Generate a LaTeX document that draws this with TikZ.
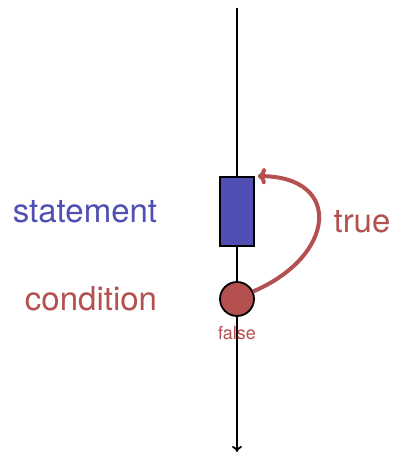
\documentclass[tikz,border=0pt]{standalone}
\usepackage{fontspec}
\setmainfont{TeX Gyre Heros}
\usetikzlibrary{arrows.meta,positioning,calc}

\definecolor{stmtblue}{RGB}{80,80,180}
\definecolor{condred}{RGB}{180,80,80}

\begin{document}
\begin{tikzpicture}[
  x=0.5pt, y=0.5pt,
  font=\rmfamily,
  big/.style  = {font=\fontsize{16.5}{18}\selectfont, anchor=base},
  small/.style = {font=\fontsize{9}{10}\selectfont, anchor=base},
  flow/.style = {line width=0.9pt, -{To[length=3pt,width=5pt]}},
  stmt/.style = {draw, line width=0.9pt, fill=stmtblue,
                 minimum width=17pt, minimum height=34.5pt, inner sep=0pt},
  cond/.style = {draw, circle, line width=0.9pt, fill=condred,
                 minimum size=17pt, inner sep=0pt},
  loop/.style = {condred, line width=2pt, -{To[length=4pt,width=8pt]}},
]
\useasboundingbox (0,0) rectangle (393,454);

\def\xL{237}

\coordinate (top) at (\xL,446);
\coordinate (bot) at (\xL,2);

\draw[flow] (top) -- (bot);

\node[stmt] (st)   at (\xL,242.5) {};
\node[cond] (cnd)  at (\xL,155) {};

\node[big,stmtblue] (stlbl)   at (85,231)  {statement};
\node[big,condred]  (cndlbl)  at (91,143)  {condition};
\node[big,condred]  (truelbl) at (362,221) {true};
\node[small,condred] (falselbl) at (\xL,114) {false};

\draw[loop] (cnd.25) .. controls (336,198) and (343,277) .. ($(st.north east)+(3,0)$);

\end{tikzpicture}
\end{document}
